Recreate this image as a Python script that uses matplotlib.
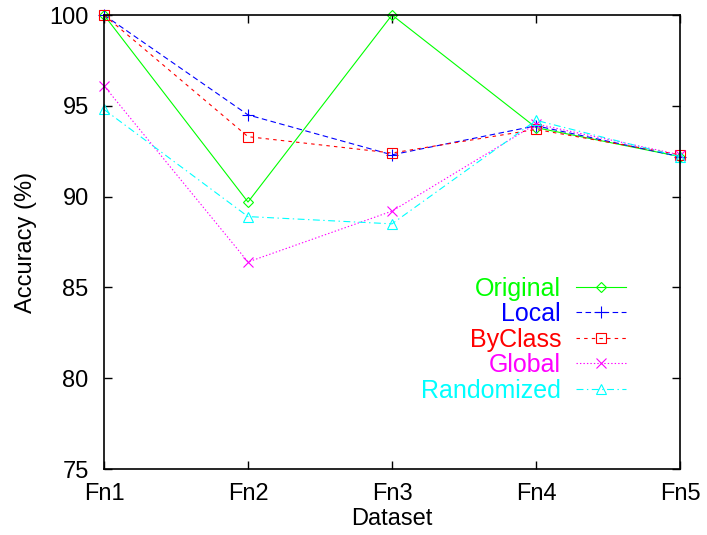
import matplotlib
matplotlib.use("Agg")
import matplotlib.pyplot as plt

plt.rcParams['font.family'] = ['Liberation Sans', 'DejaVu Sans']
plt.rcParams['lines.scale_dashes'] = False

datasets = ["Fn1", "Fn2", "Fn3", "Fn4", "Fn5"]
original = [100.0, 89.7, 100.0, 93.8, 92.2]
local = [100.0, 94.5, 92.3, 93.9, 92.2]
byclass = [100.0, 93.3, 92.4, 93.7, 92.3]
global_ = [96.1, 86.4, 89.2, 94.0, 92.3]
randomized = [94.8, 88.9, 88.5, 94.2, 92.2]

y_ticks = [75, 80, 85, 90, 95, 100]

fig = plt.figure(figsize=(7.07, 5.35), dpi=100)
ax = fig.add_axes([104/707, 1-469/535, 576/707, 454/535])

x = list(range(len(datasets)))
series = [
    ("Original", original, "#00ff00", "-", "D", 5.5),
    ("Local", local, "#0000ff", (0, (4, 2.5)), "+", 8),
    ("ByClass", byclass, "#ff0000", (0, (2.5, 3)), "s", 7),
    ("Global", global_, "#ff00ff", (0, (1, 1.5)), "x", 7),
    ("Randomized", randomized, "#00ffff", (0, (5, 2.5, 1, 2.5)), "^", 7),
]
for name, vals, col, ls, mk, ms in series:
    ax.plot(x, vals, color=col, linestyle=ls, linewidth=0.8, marker=mk,
            markersize=ms, markerfacecolor='none', markeredgecolor=col,
            markeredgewidth=0.8, label=name, clip_on=False)

ax.set_xlim(0, len(datasets) - 1)
ax.set_ylim(75, 100)
ax.set_xticks(x)
ax.set_xticklabels(datasets)
ax.set_yticks(y_ticks)
ax.tick_params(direction='in', length=6, width=1, top=True, right=True,
               labelsize=17, color='black')
ax.tick_params(axis='y', pad=11)
ax.tick_params(axis='x', pad=10)
for s in ax.spines.values():
    s.set_linewidth(1.2)
ax.set_xlabel("Dataset", fontsize=17, labelpad=2)
ax.set_ylabel("Accuracy (%)", fontsize=17, labelpad=9)

leg = ax.legend(loc='upper right', bbox_to_anchor=(0.928, 0.4515),
                frameon=False, markerfirst=False, fontsize=18,
                handlelength=2.0, handletextpad=0.6, labelspacing=0.06,
                borderpad=0, labelcolor='linecolor')

fig.savefig("out.png", dpi=100)
